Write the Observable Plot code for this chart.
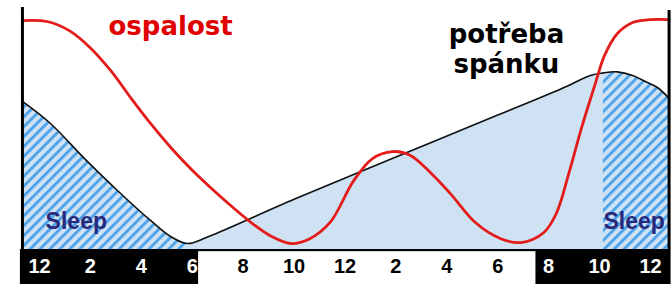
<!DOCTYPE html>
<html><head><meta charset="utf-8">
<script src="https://cdn.jsdelivr.net/npm/d3@7"></script>
<script src="https://cdn.jsdelivr.net/npm/@observablehq/plot@0.6"></script>
<style>html,body{margin:0;padding:0;background:#fff;} #chart svg{display:block}</style>
</head><body><div id="chart"></div>
<script>
// hours since midnight (0 = 12 am, 24 = next 12 am)
const tickHours = [0, 2, 4, 6, 8, 10, 12, 14, 16, 18, 20, 22, 24];
const tickLabels = ["12", "2", "4", "6", "8", "10", "12", "2", "4", "6", "8", "10", "12"];

// ospalost (sleepiness) – red curve
const sleepinessHour  = [-0.67, 0.3, 1.2, 2.0, 2.8, 3.6, 4.4, 5.2, 6.0, 6.8, 7.6, 8.4, 9.1, 9.86, 10.6, 11.43, 12.33, 13.08, 13.86, 14.57, 15.36, 16.14, 17.12, 18.1, 18.9, 19.8, 20.3, 20.8, 21.3, 21.8, 22.2, 22.7, 23.3, 24.0, 24.73];
const sleepinessValue = [95.4, 95, 91, 84, 74.5, 63, 52, 42, 33, 25, 17.5, 10.5, 5.5, 2.5, 4.4, 11.5, 28.5, 37.9, 40.8, 39.2, 32, 23.3, 11.25, 4.6, 2.9, 7, 15, 32, 51, 68, 81, 90, 94.6, 95.8, 95.8];

// potřeba spánku (sleep need) – black curve
const sleepNeedHour  = [-0.67, 0.43, 1.73, 3.06, 4.36, 5.15, 5.81, 6.6, 10, 14, 18, 20.5, 21.64, 22.15, 22.7, 23.3, 23.8, 24.27, 24.73];
const sleepNeedValue = [61.7, 52.5, 38.3, 24.6, 12.1, 5.4, 2.5, 5.2, 20.9, 38.5, 56, 67, 72.5, 73.6, 74, 72.5, 70, 67.5, 63];

// night (black) sections of the hour band
const nightStart = [-0.75, 19.5];
const nightEnd   = [6.25, 24.75];
// hatched "Sleep" periods
const sleepStart = [-0.67, 22.15];
const sleepEnd   = [5.81, 24.73];
const sleepLabelHour = [0.24, 22.15];

const red  = sleepinessHour.map((h, i) => ({h, v: sleepinessValue[i]}));
const need = sleepNeedHour.map((h, i) => ({h, v: sleepNeedValue[i]}));
const ticks = tickHours.map((h, i) => ({h, label: tickLabels[i]}));
const nights = nightStart.map((s, i) => ({s, e: nightEnd[i]}));
const isNight = h => nights.some(n => h >= n.s && h <= n.e);
const inSleep = h => sleepStart.some((s, i) => h >= s - 1e-9 && h <= sleepEnd[i] + 1e-9);
const sleepLabels = sleepLabelHour.map(h => ({h, t: "Sleep"}));

const plot = Plot.plot({
  width: 671, height: 284,
  marginTop: 0, marginBottom: 0, marginLeft: 0, marginRight: 0,
  x: {domain: [0, 24], range: [39, 650], axis: null},
  y: {domain: [0, 100], range: [249, 9], axis: null},
  style: {background: "white", overflow: "visible"},
  marks: [
    Plot.areaY(need, {x: "h", y: "v", fill: "#cfe2f4", curve: "catmull-rom"}),
    Plot.areaY(need, {x: "h", y: "v", fill: "url(#hatch)", curve: "catmull-rom",
      filter: d => inSleep(d.h), z: d => d.h < 12 ? "a" : "b"}),
    Plot.text(sleepLabels, {x: "h", y: 11.5, text: "t", textAnchor: "start", fill: "#29287a",
      fontSize: 23, fontWeight: "bold", fontFamily: "Liberation Sans, Arial, sans-serif"}),
    Plot.line(need, {x: "h", y: "v", stroke: "#111", strokeWidth: 1.6, curve: "catmull-rom"}),
    Plot.line(red, {x: "h", y: "v", stroke: "#e41b1b", strokeWidth: 2.8, curve: "catmull-rom"}),
    Plot.rect([{s: nightStart[0], e: nightEnd[1]}], {x1: "s", x2: "e", y1: -15, y2: 0, fill: "black"}),
    Plot.rect([{s: nightEnd[0], e: nightStart[1]}], {x1: "s", x2: "e", y1: -15, y2: -0.9, fill: "white"}),
    Plot.ruleX([sleepStart[0]], {y1: -15, y2: 100.8, stroke: "black", strokeWidth: 3}),
    Plot.ruleX([sleepEnd[1]], {y1: -15, y2: 99.6, stroke: "black", strokeWidth: 3}),
    Plot.text(ticks, {filter: d => isNight(d.h), x: "h", y: -7.2, text: "label", fill: "white",
      fontSize: 20, fontWeight: "bold", fontFamily: "Liberation Sans, Arial, sans-serif"}),
    Plot.text(ticks, {filter: d => !isNight(d.h), x: "h", y: -7.2, text: "label", fill: "black",
      fontSize: 20, fontWeight: "bold", fontFamily: "Liberation Sans, Arial, sans-serif"}),
    Plot.text(["ospalost"], {x: 2.71, y: 93, text: d => d, textAnchor: "start", fill: "#e00000",
      fontSize: 26, fontWeight: "bold", fontFamily: "DejaVu Sans, sans-serif"}),
    Plot.text(["potřeba\nspánku"], {x: 18.34, y: 94.8, text: d => d, lineAnchor: "top", lineHeight: 1.15,
      fill: "black", fontSize: 26, fontWeight: "bold", fontFamily: "DejaVu Sans, sans-serif"})
  ]
});

const svg = d3.select(plot);
const defs = svg.insert("defs", ":first-child");
const pat = defs.append("pattern").attr("id", "hatch").attr("patternUnits", "userSpaceOnUse")
  .attr("width", 7).attr("height", 7).attr("patternTransform", "rotate(45)");
pat.append("rect").attr("width", 7).attr("height", 7).attr("fill", "#cfe2f4");
pat.append("rect").attr("width", 2.8).attr("height", 7).attr("fill", "#4aa2ea");

document.getElementById("chart").appendChild(plot);
</script>
</body></html>
